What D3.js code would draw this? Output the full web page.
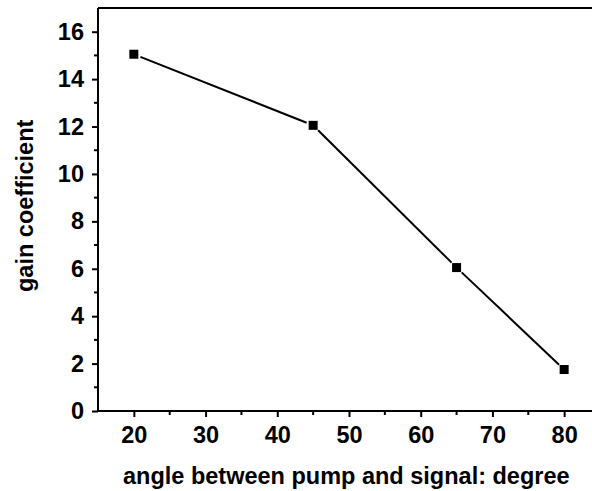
<!DOCTYPE html>
<html>
<head>
<meta charset="utf-8">
<script src="https://cdn.jsdelivr.net/npm/d3@7"></script>
<style>
  html, body { margin: 0; padding: 0; background: #fff; }
  svg { display: block; }
  text { font-family: "Liberation Sans", Arial, sans-serif; font-weight: bold; fill: #000; }
</style>
</head>
<body>
<svg id="chart" width="592" height="491"></svg>
<script>
// Gain coefficient versus pump/signal angle
const angles = [20, 45, 65, 80];
const gain = [15.05, 12.05, 6.05, 1.75];
const xTicks = [20, 30, 40, 50, 60, 70, 80];
const yTicks = [0, 2, 4, 6, 8, 10, 12, 14, 16];
const xMinor = [25, 35, 45, 55, 65, 75];
const yMinor = [1, 3, 5, 7, 9, 11, 13, 15];

const svg = d3.select("#chart");
const plotLeft = 98, plotRight = 600, plotTop = 8, plotBottom = 411;
const fontSize = 23.5;

const x = d3.scaleLinear().domain([15, 85]).range([plotLeft, plotRight]);
const y = d3.scaleLinear().domain([0, 17]).range([plotBottom, plotTop]);

const points = angles.map((a, i) => ({ x: a, y: gain[i] }));

// Frame: top border
svg.append("line")
  .attr("x1", plotLeft).attr("x2", plotRight).attr("y1", plotTop).attr("y2", plotTop)
  .attr("stroke", "#000").attr("stroke-width", 2);

// Bottom axis
const xAxis = svg.append("g").attr("transform", `translate(0,${plotBottom})`)
  .call(d3.axisBottom(x).tickValues(xTicks).tickSize(6).tickPadding(9).tickFormat(d3.format("d")));
xAxis.append("g").selectAll("line").data(xMinor).join("line")
  .attr("x1", d => x(d)).attr("x2", d => x(d)).attr("y1", 0).attr("y2", 4)
  .attr("stroke", "#000").attr("stroke-width", 2);

// Left axis
const yAxis = svg.append("g").attr("transform", `translate(${plotLeft},0)`)
  .call(d3.axisLeft(y).tickValues(yTicks).tickSize(6).tickPadding(8).tickFormat(d3.format("d")));
yAxis.append("g").selectAll("line").data(yMinor).join("line")
  .attr("x1", 0).attr("x2", -4).attr("y1", d => y(d)).attr("y2", d => y(d))
  .attr("stroke", "#000").attr("stroke-width", 2);

[xAxis, yAxis].forEach(g => {
  g.select(".domain").attr("stroke", "#000").attr("stroke-width", 2);
  g.selectAll(".tick line").attr("stroke", "#000").attr("stroke-width", 2);
  g.selectAll(".tick text")
    .attr("font-size", fontSize)
    .attr("font-family", "Liberation Sans, Arial, sans-serif")
    .attr("font-weight", "bold").attr("fill", "#000");
});
xAxis.select(".domain").attr("d", `M${plotLeft},0H${plotRight}`);
yAxis.select(".domain").attr("d", `M0,${plotTop}V${plotBottom}`);

// Line segments, trimmed so they stop short of the markers
const gap = 7;
for (let i = 0; i < points.length - 1; i++) {
  const x1 = x(points[i].x), y1 = y(points[i].y);
  const x2 = x(points[i + 1].x), y2 = y(points[i + 1].y);
  const len = Math.hypot(x2 - x1, y2 - y1);
  const ux = (x2 - x1) / len, uy = (y2 - y1) / len;
  svg.append("line")
    .attr("x1", x1 + ux * gap).attr("y1", y1 + uy * gap)
    .attr("x2", x2 - ux * gap).attr("y2", y2 - uy * gap)
    .attr("stroke", "#000").attr("stroke-width", 2);
}

// Square markers
const m = 9;
svg.append("g").selectAll("rect").data(points).join("rect")
  .attr("x", d => x(d.x) - m / 2).attr("y", d => y(d.y) - m / 2)
  .attr("width", m).attr("height", m).attr("fill", "#000");

// Axis titles
svg.append("text")
  .attr("x", 123).attr("y", 484)
  .attr("font-size", fontSize)
  .text("angle between pump and signal: degree");

svg.append("text")
  .attr("transform", `translate(33,292) rotate(-90)`)
  .attr("font-size", fontSize)
  .text("gain coefficient");
</script>
</body>
</html>
